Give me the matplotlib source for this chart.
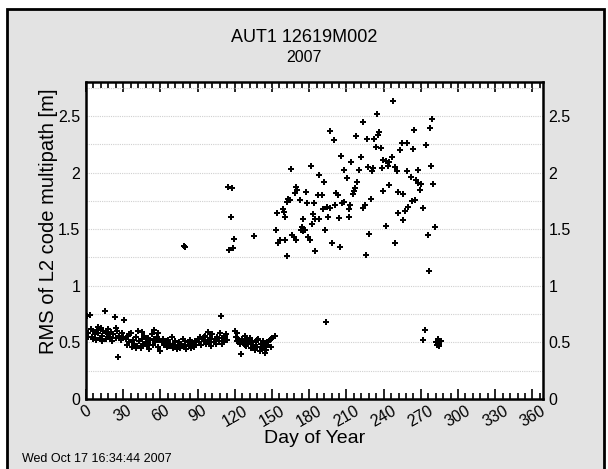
import matplotlib
matplotlib.use("Agg")
import matplotlib.pyplot as plt
from matplotlib.patches import Rectangle
from matplotlib.ticker import MultipleLocator

plt.rcParams['font.family'] = ['Liberation Sans', 'DejaVu Sans']

title = "AUT1 12619M002"
year = "2007"
stamp = "Wed Oct 17 16:34:44 2007"

# low cluster, days 0-152
low_days = [1, 2, 2, 3, 4, 5, 6, 6, 7, 8, 9, 10, 10, 11, 12, 13, 13, 14, 15, 16,
            17, 18, 18, 19, 20, 21, 22, 23, 24, 24, 25, 26, 27, 28, 29, 30, 31,
            32, 33, 34, 35, 35, 36, 37, 38, 39, 40, 40, 41, 42, 43, 44, 45, 45,
            46, 47, 48, 49, 50, 50, 51, 52, 53, 54, 55, 55, 56, 57, 58, 58, 59,
            60, 61, 62, 63, 64, 65, 65, 66, 67, 68, 69, 70, 70, 71, 72, 73, 74,
            75, 75, 76, 77, 78, 79, 80, 80, 81, 82, 83, 84, 85, 85, 86, 87, 88,
            89, 90, 91, 92, 93, 94, 95, 95, 96, 97, 98, 99, 100, 100, 101, 102,
            103, 104, 105, 105, 106, 107, 108, 109, 110, 110, 111, 112, 113, 114,
            120, 121, 122, 122, 123, 124, 125, 126, 127, 128, 128, 129, 130, 131,
            132, 132, 133, 134, 135, 136, 137, 138, 138, 139, 140, 141, 142, 143,
            144, 144, 145, 146, 147, 148, 149, 149, 150, 152]
low_vals = [0.73, 0.58, 0.55, 0.74, 0.62, 0.55, 0.60, 0.53, 0.57, 0.52, 0.61, 0.58, 0.64, 0.54, 0.63, 0.56, 0.51, 0.60, 0.78, 0.53,
            0.58, 0.62, 0.57, 0.55, 0.59, 0.51, 0.57, 0.72, 0.54, 0.63, 0.60, 0.37, 0.56, 0.52, 0.58, 0.55, 0.70,
            0.53, 0.48, 0.56, 0.50, 0.57, 0.58, 0.46, 0.52, 0.49, 0.55, 0.45, 0.47, 0.60, 0.51, 0.45, 0.53, 0.59,
            0.49, 0.56, 0.50, 0.47, 0.54, 0.49, 0.44, 0.52, 0.57, 0.48, 0.61, 0.53, 0.50, 0.55, 0.46, 0.58, 0.52,
            0.42, 0.50, 0.53, 0.48, 0.50, 0.46, 0.51, 0.52, 0.47, 0.49, 0.55, 0.45, 0.48, 0.48, 0.51, 0.44, 0.47,
            0.50, 0.46, 0.45, 0.49, 0.53, 0.46, 0.48, 0.51, 0.44, 0.50, 0.47, 0.52, 0.45, 0.49, 0.49, 0.46, 0.51,
            0.48, 0.53, 0.50, 0.55, 0.48, 0.53, 0.51, 0.55, 0.56, 0.49, 0.59, 0.52, 0.54, 0.50, 0.47, 0.57,
            0.50, 0.53, 0.49, 0.53, 0.55, 0.51, 0.58, 0.73, 0.54, 0.49, 0.50, 0.56, 0.57, 0.52,
            0.60, 0.55, 0.58, 0.51, 0.52, 0.49, 0.40, 0.53, 0.50, 0.56, 0.48, 0.47, 0.52, 0.49,
            0.54, 0.50, 0.45, 0.51, 0.48, 0.43, 0.50, 0.46, 0.52, 0.53, 0.42, 0.49, 0.45, 0.51,
            0.47, 0.41, 0.43, 0.50, 0.48, 0.52, 0.46, 0.53, 0.54, 0.56]

# isolated points
mid_days = [79, 80, 114.8, 118, 116.7, 115.6, 118.3, 119.6, 135.5, 193.6,
            272.1, 273.4, 282, 283, 284, 284.5, 285, 286]
mid_vals = [1.35, 1.34, 1.87, 1.86, 1.61, 1.32, 1.33, 1.41, 1.44, 0.68,
            0.52, 0.61, 0.50, 0.48, 0.53, 0.47, 0.49, 0.51]

# high cluster, days 153-282
high_days = [247.8, 234.4, 223.7, 196.8, 200.0, 236.6, 235.8, 217.7, 226.3, 232.5,
             233.9, 237.9, 253.2, 205.6, 181.2, 165.3, 213.7, 221.5, 239.8, 242.0,
             244.6, 246.5, 220.4, 227.6, 231.2, 230.4, 238.5, 243.8, 249.2, 251.1,
             208.0, 188.2, 191.9, 210.2, 218.8, 169.0, 170.0, 168.3, 177.2, 163.2,
             164.5, 162.4, 172.6, 178.0, 183.9, 187.4, 190.0, 201.6, 203.5, 215.0,
             216.1, 216.9, 208.0, 206.2, 197.1, 201.1, 194.0, 191.4, 212.4, 213.2,
             223.2, 225.1, 229.6, 239.8, 244.6, 251.4, 153.8, 158.6, 159.7, 160.5,
             175.3, 182.8, 182.0, 184.7, 188.2, 194.9, 204.3, 212.1, 251.9, 153.2,
             174.0, 173.1, 176.6, 174.7, 166.3, 167.7, 169.0, 179.3, 180.6, 193.0,
             156.5, 155.2, 160.5, 184.7, 198.1, 204.8, 228.5, 242.0, 249.2, 162.4,
             225.8, 278.7, 277.4, 264.5, 254.6, 259.2, 263.4, 274.2, 258.6, 261.8,
             267.5, 277.9, 266.2, 268.0, 269.9, 269.4, 280.1, 255.4, 262.6, 265.3,
             259.9, 257.3, 255.9, 271.5, 275.5, 281.5, 276.9]
high_vals = [2.63, 2.52, 2.45, 2.37, 2.29, 2.36, 2.33, 2.32, 2.30, 2.30,
             2.23, 2.22, 2.20, 2.15, 2.06, 2.03, 2.09, 2.14, 2.11, 2.10,
             2.09, 2.14, 2.02, 2.05, 2.04, 2.01, 2.04, 2.06, 2.05, 2.01,
             2.02, 1.98, 1.92, 1.95, 1.92, 1.87, 1.85, 1.82, 1.83, 1.77,
             1.76, 1.74, 1.76, 1.73, 1.73, 1.80, 1.80, 1.82, 1.80, 1.81,
             1.84, 1.86, 1.74, 1.73, 1.69, 1.71, 1.70, 1.68, 1.68, 1.71,
             1.69, 1.71, 1.77, 1.84, 1.89, 1.83, 1.64, 1.68, 1.65, 1.61,
             1.59, 1.63, 1.55, 1.59, 1.59, 1.61, 1.60, 1.61, 1.64, 1.49,
             1.52, 1.49, 1.49, 1.48, 1.45, 1.43, 1.40, 1.43, 1.40, 1.49,
             1.40, 1.38, 1.40, 1.31, 1.38, 1.34, 1.46, 1.53, 1.38, 1.26,
             1.27, 2.47, 2.39, 2.38, 2.26, 2.26, 2.21, 2.24, 2.01, 1.96,
             2.02, 2.06, 1.93, 1.91, 1.90, 1.85, 1.90, 1.81, 1.75, 1.76,
             1.70, 1.66, 1.58, 1.69, 1.45, 1.52, 1.13]

x_ticks = list(range(0, 361, 30))
y_ticks = [0, 0.5, 1, 1.5, 2, 2.5]
y_ticklabels = ["0", "0.5", "1", "1.5", "2", "2.5"]

fig = plt.figure(figsize=(6.08, 4.69), dpi=100)
fig.patch.set_facecolor("white")
frame = Rectangle((7 / 608, -0.01), 597 / 608, 1 - 9 / 469 + 0.01,
                  transform=fig.transFigure, facecolor="#e3e3e3",
                  edgecolor="black", linewidth=2, zorder=-10)
fig.patches.append(frame)

ax = fig.add_axes([86 / 608, 1 - 399 / 469, 457 / 608, 317 / 469])
ax.set_zorder(5)
ax.set_facecolor("white")

for d, v in ((low_days, low_vals), (mid_days, mid_vals), (high_days, high_vals)):
    ax.plot(d, v, linestyle="none", marker="P", markersize=4.4, color="black",
            markeredgewidth=0)

ax.set_xlim(0, 368.5)
ax.set_ylim(0, 2.8)
ax.set_xticks(x_ticks)
ax.set_xticklabels([str(t) for t in x_ticks], rotation=30, ha="center", fontsize=11.5)
ax.xaxis.set_minor_locator(MultipleLocator(6))
ax.tick_params(axis="x", which="major", direction="in", length=7, width=1.2,
               top=True, bottom=True, pad=3)
ax.tick_params(axis="x", which="minor", direction="in", length=4, width=1.2,
               top=True, bottom=True)
ax.set_yticks(y_ticks)
ax.set_yticklabels(y_ticklabels, fontsize=11.5)
ax.yaxis.set_minor_locator(MultipleLocator(0.25))
ax.tick_params(axis="y", which="both", length=0, left=True, right=True,
               labelleft=True, labelright=True, pad=4)
ax.grid(axis="y", which="both", color="#d0d0d0", linestyle=(0, (1, 1)), linewidth=0.8)
for s in ax.spines.values():
    s.set_linewidth(1.8)

ax.set_xlabel("Day of Year", fontsize=14, labelpad=0)
ax.set_ylabel("RMS of L2 code multipath [m]", fontsize=14.5)
ax.yaxis.set_label_coords(-0.062, 0.56)

fig.text(0.5, 1 - 38 / 469, title, ha="center", va="center", fontsize=13)
fig.text(0.5, 1 - 57 / 469, year, ha="center", va="center", fontsize=11.5)
fig.text(22 / 608, 1 - 459 / 469, stamp, ha="left", va="center", fontsize=9)

fig.savefig("out.png", dpi=100)
